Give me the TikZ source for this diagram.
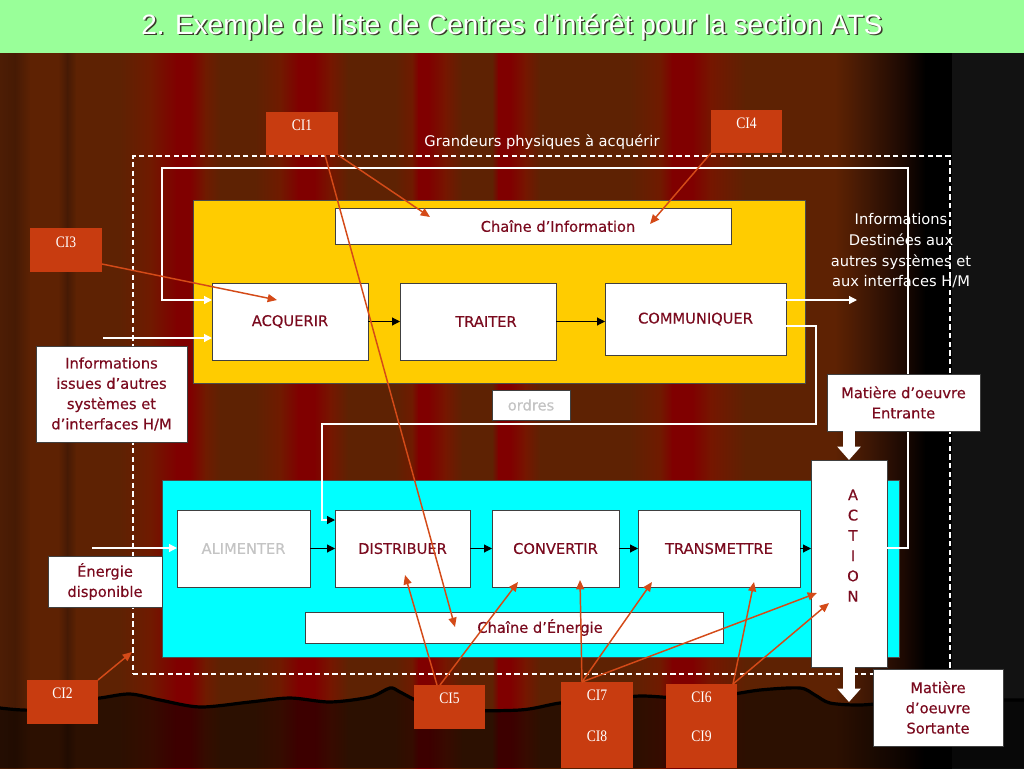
\documentclass[tikz,border=0pt]{standalone}
\usepackage{fontspec}
\setmainfont{DejaVu Sans}
\newfontfamily\titlefont{Liberation Sans}
\newfontfamily\boxfont[FakeBold=0.35]{DejaVu Sans}
\newfontfamily\cifont[FakeStretch=0.85]{Liberation Serif}
\usetikzlibrary{arrows.meta,calc}
\definecolor{tgreen}{HTML}{99FF99}
\definecolor{bd}{HTML}{4D1D05}
\definecolor{bk}{HTML}{461A04}
\definecolor{bb}{HTML}{5E2203}
\definecolor{bm}{HTML}{701A00}
\definecolor{rr}{HTML}{800000}
\definecolor{rs}{HTML}{761600}
\definecolor{bthree}{HTML}{3C1604}
\definecolor{bone}{HTML}{1A0802}
\definecolor{blk}{HTML}{000000}
\definecolor{gy}{HTML}{121212}
\definecolor{yel}{HTML}{FFCC00}
\definecolor{cya}{HTML}{00FFFF}
\definecolor{dr}{HTML}{7A0A1E}
\definecolor{cifill}{HTML}{C83C10}
\definecolor{orl}{HTML}{D44A18}
\definecolor{lgray}{HTML}{C4C4C4}
\definecolor{tshadow}{HTML}{3A3A2A}
\newcommand\fsmain{\fontsize{11}{15.2}\selectfont}
\newcommand\fsbox{\boxfont\fontsize{11}{15.2}\selectfont}
\newcommand\mybox[7][]{\node[inner sep=0pt, outer sep=0pt, minimum width={(#5-#3)*0.75pt}, minimum height={(#6-#4)*0.75pt}, #1] (#2) at ({(#3+#5)/2},{(#4+#6)/2}) {#7};}
\begin{document}
\begin{tikzpicture}[x=0.75pt,y=-0.75pt,
  wbox/.style={draw=black!75, line width=0.6pt, fill=white, text=dr, align=center, font=\fsbox},
  panel/.style={draw=black!70, line width=0.6pt},
  ci/.style={fill=cifill},
  cil/.style={text=white, font=\cifont\fontsize{12}{14}\selectfont, anchor=north},
  wtxt/.style={text=white, font=\fsmain, align=center},
  wline/.style={draw=white, line width=0.9pt},
  wtip/.style={-{Triangle[length=6pt,width=6pt]}},
  barrow/.style={draw=black, line width=0.8pt, -{Triangle[length=6pt,width=6pt]}},
  orarrow/.style={draw=orl, line width=1.1pt, -{Triangle[length=7pt,width=6pt]}},
  bigarrow/.style={draw=white, line width=9pt, -{Triangle[length=10pt,width=17pt]}},
]
\useasboundingbox (0,0) rectangle (1024,768);
% title bar
\fill[tgreen] (0,0) rectangle (1024,53);
% curtain background
\foreach \xa/\ca/\xb/\cb in {0/bd/15/bk, 15/bk/30/bb, 30/bb/58/bb, 58/bb/67/bk, 67/bk/76/bb, 76/bb/120/bb, 120/bb/150/bm, 150/bm/176/rr, 176/rr/190/rr, 190/rr/205/bm, 205/bm/220/bb, 220/bb/255/bb, 255/bb/280/bm, 280/bm/298/rr, 298/rr/314/rr, 314/rr/330/rs, 330/rs/348/bb, 348/bb/395/bb, 395/bb/412/bm, 412/bm/418/rr, 418/rr/428/rr, 428/rr/445/rs, 445/rs/462/bb, 462/bb/492/bb, 492/bb/498/rr, 498/rr/510/rr, 510/rr/525/rs, 525/rs/540/bb, 540/bb/630/bb, 630/bb/660/bm, 660/bm/672/rr, 672/rr/692/rr, 692/rr/710/rs, 710/rs/745/bb, 745/bb/835/bb, 835/bb/870/bthree, 870/bthree/905/bone, 905/bone/925/blk, 925/blk/952/blk, 952/gy/1024/gy}
  {\shade[left color=\ca, right color=\cb] (\xa,53) rectangle (\xb+0.7,768);}
% floor wave
\fill[black, opacity=0.52] plot[smooth] coordinates {(0,708) (30,710) (60,703) (100,698) (130,694) (160,700) (200,707) (250,702) (290,698) (330,702) (370,697) (390,688) (400,692) (420,702) (450,710) (520,710) (560,703) (600,700) (640,696) (680,698) (720,696) (760,690) (800,688) (815,695) (830,703) (860,705) (900,702) (960,700) (1024,700)} -- (1024,768) -- (0,768) -- cycle;
\draw[black, line width=2.4pt] plot[smooth] coordinates {(0,708) (30,710) (60,703) (100,698) (130,694) (160,700) (200,707) (250,702) (290,698) (330,702) (370,697) (390,688) (400,692) (420,702) (450,710) (520,710) (560,703) (600,700) (640,696) (680,698) (720,696) (760,690) (800,688) (815,695) (830,703) (860,705) (900,702) (960,700) (1024,700)};
% title
\node[text=tshadow, font=\titlefont\fontsize{21}{25}\selectfont] at (513.5,28.5) {2. Exemple de liste de Centres d’intérêt pour la section ATS};
\node[text=white, font=\titlefont\fontsize{21}{25}\selectfont] (title) at (512,27) {2. Exemple de liste de Centres d’intérêt pour la section ATS};
% system boundary
\mybox[draw=white, line width=0.9pt, dash pattern=on 4pt off 2.5pt]{sys}{133}{156}{950}{674}{}
% panels
\mybox[panel, fill=yel]{info}{193}{200}{805}{383}{}
\mybox[panel, fill=cya]{ener}{162}{480}{899}{657}{}
% information chain blocks
\mybox[wbox, label={[text=dr, font=\fsbox, xshift=18.75pt]center:Chaîne d’Information}]{chinf}{335}{208}{731}{244}{}
\mybox[wbox]{acq}{212}{283}{368}{360}{ACQUERIR}
\mybox[wbox, label={[text=dr, font=\fsbox, xshift=6pt]center:TRAITER}]{tra}{400}{283}{556}{360}{}
\mybox[wbox]{com}{605}{283}{786}{355}{COMMUNIQUER}
\mybox[wbox, text=lgray]{ord}{492}{390}{570}{420}{ordres}
% energy chain blocks
\mybox[wbox, text=lgray]{ali}{177}{510}{310}{587}{ALIMENTER}
\mybox[wbox]{dis}{335}{510}{470}{587}{DISTRIBUER}
\mybox[wbox]{cvt}{492}{510}{619}{587}{CONVERTIR}
\mybox[wbox]{trn}{638}{510}{800}{587}{TRANSMETTRE}
\mybox[wbox, label={[text=dr, font=\fsbox, xshift=19.5pt]center:Chaîne d’Énergie}]{chen}{305}{612}{723}{643}{}
\mybox[wbox, label={[text=dr, font=\fsbox, align=center, anchor=north, yshift=-18.6pt, xshift=3pt]north:A\\C\\T\\I\\O\\N}]{act}{811}{460}{887}{667}{}
% white information lines
\draw[wline, wtip] ($(act.north east)+(0,88)$) -- (908,548) -- (908,168) -- (162,168) -- (162,300) -- ($(acq.north west)+(0,17)$);
\coordinate (iout) at (857,300);
\draw[wline, wtip] ($(com.north east)+(0,17)$) -- (iout);
\draw[wline, -{Triangle[length=6pt,width=6pt,color=black]}] ($(com.north east)+(0,43)$) -- (816,326) -- (816,424) -- (322,424) -- (322,520) -- ($(dis.north west)+(0,10)$);
\coordinate (iinstart) at (103,338);
\draw[wline, wtip] (iinstart) -- ($(acq.north west)+(0,55)$);
\coordinate (einstart) at (92,548);
\draw[wline, wtip] (einstart) -- ($(ali.north west)+(0,38)$);
% black flow arrows
\draw[barrow] (acq.east) -- (tra.west);
\draw[barrow] (tra.east) -- (tra.east -| com.west);
\draw[barrow] (ali.east) -- (dis.west);
\draw[barrow] (dis.east) -- (cvt.west);
\draw[barrow] (cvt.east) -- (trn.west);
\draw[barrow] (trn.east) -- (trn.east -| act.west);
% outside boxes
\mybox[wbox]{ent}{827}{374}{980}{431}{Matière d’oeuvre\\Entrante}
\mybox[wbox]{sor}{873}{669}{1003}{746}{Matière\\d’oeuvre\\Sortante}
\mybox[wbox]{iin}{36}{346}{187}{442}{Informations\\issues d’autres\\systèmes et\\d’interfaces H/M}
\mybox[wbox]{edisp}{48}{556}{162}{607}{Énergie\\disponible}
\node[wtxt] (grand) at (542,142) {Grandeurs physiques à acquérir};
\node[wtxt, font=\fontsize{11}{15.5}\selectfont] (idest) at (901,251) {Informations\\Destinées aux\\autres systèmes et\\aux interfaces H/M};
% matter arrows
\draw[bigarrow] (act.north |- ent.south) -- (act.north);
\coordinate (actout) at (849,702);
\draw[bigarrow] (act.south) -- (actout);
% CI boxes
\mybox[ci, label={[cil, yshift=-2.5pt]north:CI1}]{ci1}{266}{112}{338}{155}{}
\mybox[ci, label={[cil, yshift=-2.5pt]north:CI4}]{ci4}{711}{110}{782}{153}{}
\mybox[ci, label={[cil, yshift=-3pt]north:CI3}]{ci3}{30}{228}{102}{272}{}
\mybox[ci, label={[cil, yshift=-2.5pt]north:CI2}]{ci2}{27}{680}{98}{724}{}
\mybox[ci, label={[cil, yshift=-2.5pt]north:CI5}]{ci5}{414}{685}{485}{729}{}
\mybox[ci, label={[cil, yshift=-2.5pt]north:CI7}, label={[cil, yshift=-33pt]north:CI8}]{ci7}{561}{682}{633}{768}{}
\mybox[ci, label={[cil, yshift=-2.5pt]north:CI6}, label={[cil, yshift=-32pt]north:CI9}]{ci6}{666}{684}{737}{768}{}
% CI arrow targets
\coordinate (tia) at (430,217);
\coordinate (tib) at (455,627);
\coordinate (tiv) at (650,224);
\coordinate (tiii) at (277,300);
\coordinate (tii) at (132,652);
\coordinate (tva) at (405,575);
\coordinate (tvb) at (518,582);
\coordinate (tviia) at (580,580);
\coordinate (tviib) at (652,582);
\coordinate (tviic) at (817,593);
\coordinate (tvia) at (754,582);
\coordinate (tvib) at (829,603);
% CI arrows
\draw[orarrow] (ci1.south east) -- (tia);
\draw[orarrow] ($(ci1.south west)+(59,0)$) -- (tib);
\draw[orarrow] (ci4.south west) -- (tiv);
\draw[orarrow] ($(ci3.south east)+(0,-8)$) -- (tiii);
\draw[orarrow] (ci2.north east) -- (tii);
\draw[orarrow] ($(ci5.north west)+(23,0)$) -- (tva);
\draw[orarrow] ($(ci5.north west)+(26,0)$) -- (tvb);
\draw[orarrow] ($(ci7.north west)+(21,0)$) -- (tviia);
\draw[orarrow] ($(ci7.north west)+(21,0)$) -- (tviib);
\draw[orarrow] ($(ci7.north west)+(21,0)$) -- (tviic);
\draw[orarrow] ($(ci6.north west)+(67,0)$) -- (tvia);
\draw[orarrow] ($(ci6.north west)+(67,0)$) -- (tvib);
\end{tikzpicture}
\end{document}
